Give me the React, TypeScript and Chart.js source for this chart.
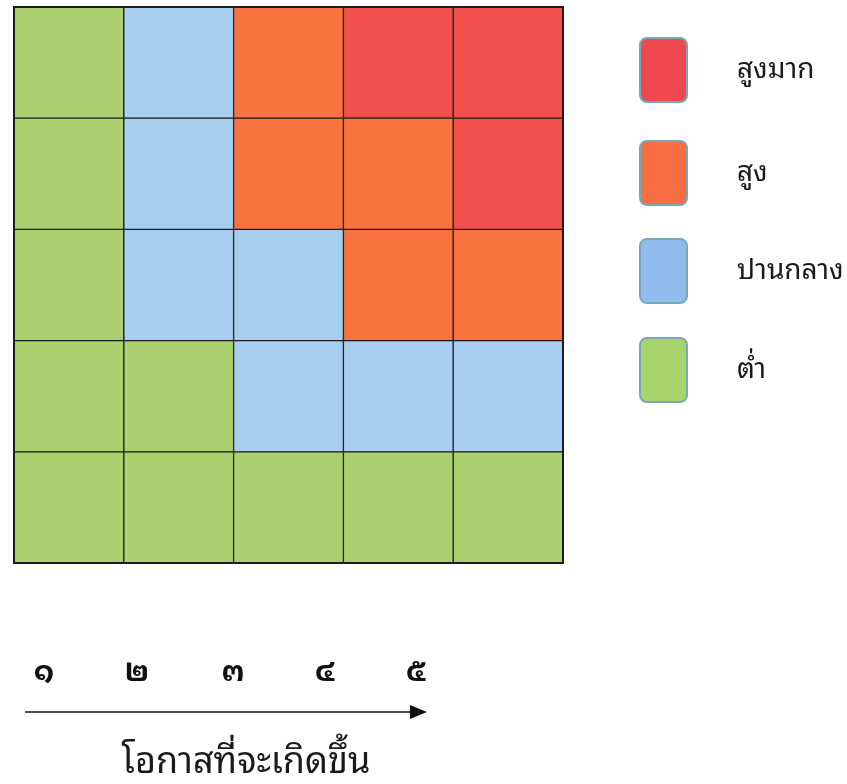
import React, { useEffect, useRef } from "react";
import { Chart, registerables } from "chart.js";

Chart.register(...registerables);

// Likelihood (columns, left → right)
const likelihood = ["1", "2", "3", "4", "5"];
// Risk level per cell, one array per impact row (bottom row = impact 1)
const impact1 = ["low", "low", "low", "low", "low"];
const impact2 = ["low", "low", "medium", "medium", "medium"];
const impact3 = ["low", "medium", "medium", "high", "high"];
const impact4 = ["low", "medium", "high", "high", "veryHigh"];
const impact5 = ["low", "medium", "high", "veryHigh", "veryHigh"];
const impactRows = [impact1, impact2, impact3, impact4, impact5];

// Legend
const legendKeys = ["veryHigh", "high", "medium", "low"];
const legendLabels = ["สูงมาก", "สูง", "ปานกลาง", "ต่ำ"];

// Bottom axis
const likelihoodTicks = ["๑", "๒", "๓", "๔", "๕"];
const likelihoodTitle = "โอกาสที่จะเกิดขึ้น";

const levelColors: Record<string, string> = {
  veryHigh: "#f1504c",
  high: "#f8733f",
  medium: "#a7cdef",
  low: "#abd06f",
};
const legendColors: Record<string, string> = {
  veryHigh: "#f0474f",
  high: "#f96d42",
  medium: "#90bdee",
  low: "#a9d46c",
};

const FONT = '"Noto Sans Thai Looped", "Noto Serif Thai", "Loma", "Garuda", "Norasi", "Noto Sans Thai", "Noto Sans", sans-serif';

const extrasPlugin = {
  id: "riskExtras",
  afterDatasetsDraw(chart: any) {
    const ctx = chart.ctx as CanvasRenderingContext2D;
    const a = chart.chartArea;
    ctx.save();
    ctx.lineWidth = 2;
    ctx.strokeStyle = "#1c1c1c";
    ctx.strokeRect(a.left, a.top, a.right - a.left, a.bottom - a.top);
    ctx.restore();
  },
  afterDraw(chart: any) {
    const ctx = chart.ctx as CanvasRenderingContext2D;
    ctx.save();
    // Legend
    const boxX = 640, boxW = 47, boxH = 64;
    const boxTops = [38, 141, 239, 338];
    legendKeys.forEach((k, i) => {
      const y = boxTops[i];
      ctx.beginPath();
      (ctx as any).roundRect(boxX, y, boxW, boxH, 7);
      ctx.fillStyle = legendColors[k];
      ctx.fill();
      ctx.lineWidth = 2;
      ctx.strokeStyle = "#74a9b9";
      ctx.stroke();
      ctx.fillStyle = "#1a1a1a";
      ctx.font = `28px ${FONT}`;
      ctx.textAlign = "left";
      ctx.textBaseline = "middle";
      ctx.fillText(legendLabels[i], 737, y + boxH / 2);
    });
    // Bottom numerals
    const tickX = [44, 137, 233, 325, 416];
    ctx.font = `bold 30px ${FONT}`;
    ctx.textAlign = "center";
    ctx.textBaseline = "middle";
    ctx.fillStyle = "#111";
    likelihoodTicks.forEach((t, i) => ctx.fillText(t, tickX[i], 673));
    // Arrow
    ctx.beginPath();
    ctx.moveTo(25, 712);
    ctx.lineTo(412, 712);
    ctx.lineWidth = 1.5;
    ctx.strokeStyle = "#111";
    ctx.stroke();
    ctx.beginPath();
    ctx.moveTo(427, 712);
    ctx.lineTo(410, 705);
    ctx.lineTo(410, 719);
    ctx.closePath();
    ctx.fillStyle = "#111";
    ctx.fill();
    // Title
    ctx.font = `36px ${FONT}`;
    ctx.fillStyle = "#1a1a1a";
    ctx.fillText(likelihoodTitle, 246, 763);
    ctx.restore();
  },
};

export default function App() {
  const ref = useRef<HTMLCanvasElement | null>(null);
  useEffect(() => {
    if (!ref.current) return;
    const chart = new Chart(ref.current, {
      type: "bar",
      data: {
        labels: likelihood,
        datasets: impactRows.map((row, i) => ({
          label: `impact ${i + 1}`,
          data: row.map(() => 1),
          backgroundColor: row.map((l) => levelColors[l]),
          borderColor: "#1c1c1c",
          borderWidth: 1,
          borderSkipped: false,
          barPercentage: 1,
          categoryPercentage: 1,
        })),
      },
      options: {
        animation: false,
        responsive: false,
        maintainAspectRatio: false,
        layout: { padding: { left: 14, top: 7, right: 284, bottom: 221 } },
        plugins: { legend: { display: false }, tooltip: { enabled: false } },
        scales: {
          x: { stacked: true, display: false, grid: { display: false } },
          y: { stacked: true, display: false, min: 0, max: 5, grid: { display: false } },
        },
      },
      plugins: [extrasPlugin],
    });
    return () => chart.destroy();
  }, []);
  return (
    <div style={{ position: "fixed", left: 0, top: 0, width: 847, height: 784, background: "#fff" }}>
      <canvas ref={ref} width={847} height={784} style={{ width: 847, height: 784 }} />
    </div>
  );
}
